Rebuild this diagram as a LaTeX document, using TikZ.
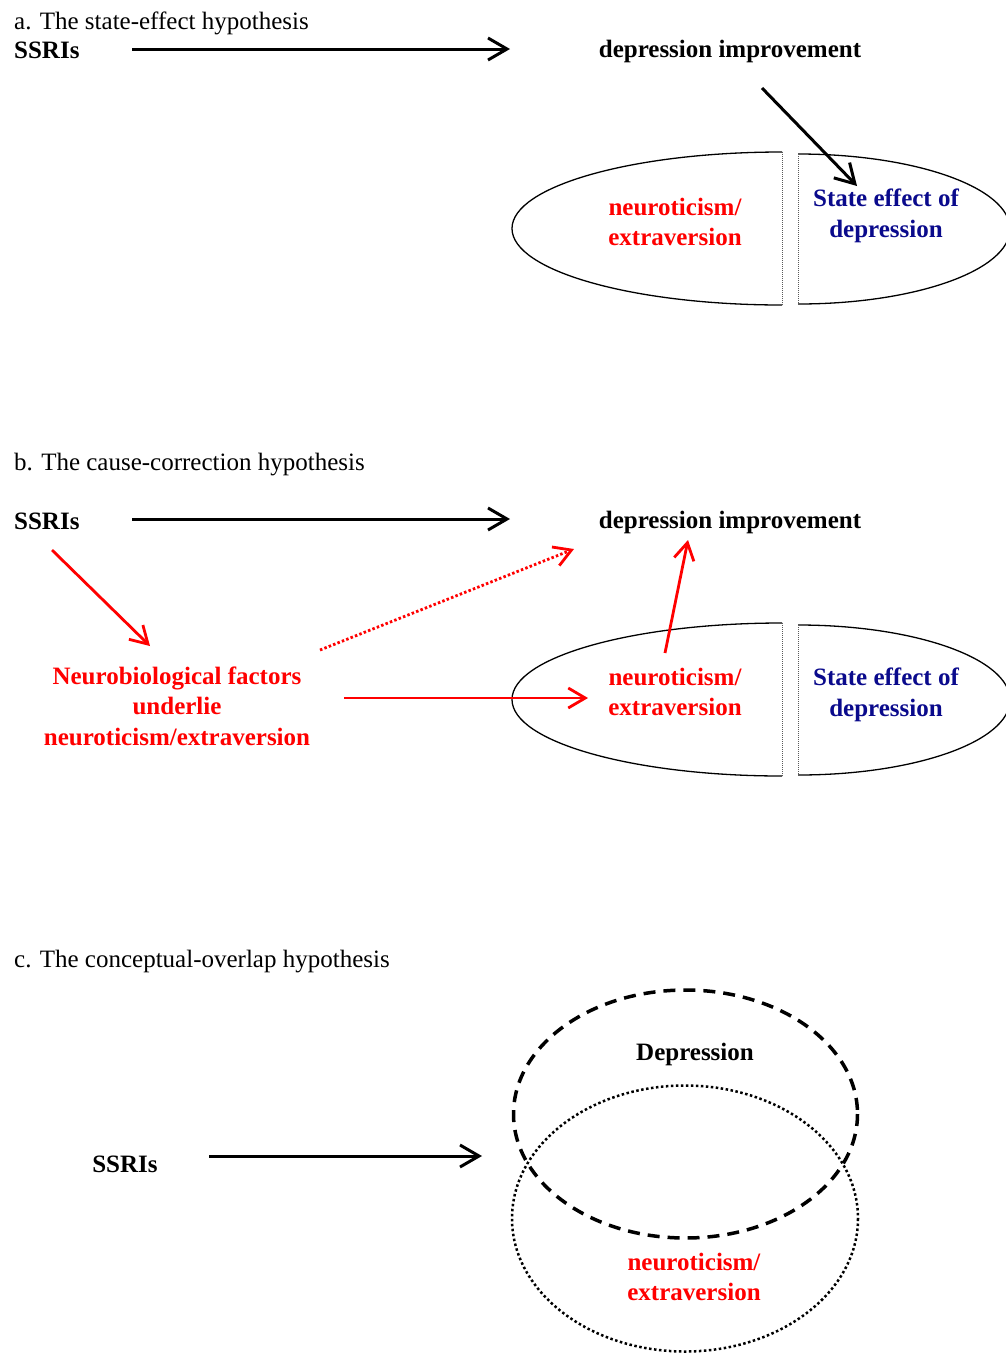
\documentclass[tikz,border=0pt]{standalone}
\usepackage{fontspec}
\setmainfont{Liberation Serif}
\usetikzlibrary{arrows.meta}
\definecolor{navy}{RGB}{10,10,140}
\tikzset{
  ttl/.style={anchor=base west, inner sep=0, font=\fontsize{25}{30}\selectfont},
  lbl/.style={inner sep=0, align=center, font=\fontsize{25}{30.5}\selectfont\bfseries},
  redlbl/.style={lbl, text=red},
  navylbl/.style={lbl, text=navy},
  arr/.style={line width=3pt, -{Straight Barb[length=19pt,width=22pt,line width=3pt]}},
  rarr/.style={red, line width=2.8pt, -{Straight Barb[length=17pt,width=20pt,line width=2.8pt]}},
  rdot/.style={rarr, dash pattern=on 2.5pt off 2.2pt},
  ell/.style={line width=1.3pt},
  sep/.style={line width=0.9pt, gray!70!black, dash pattern=on 1pt off 1pt},
}
\begin{document}
\begin{tikzpicture}[x=1pt,y=-1pt]
\clip (0,0) rectangle (1006,1353);
\fill[white] (0,0) rectangle (1006,1353);

% ---------------- a ----------------
\node[ttl] (ta) at (14,29) {a. The state-effect hypothesis};
\node[lbl, anchor=west] (ssa) at (14,50) {SSRIs};
\node[lbl] (dia) at (730,51) {depression improvement};
\coordinate (a1s) at (132,49);
\coordinate (a1e) at (510,49);
\draw[arr] (a1s) -- (a1e);
\draw[ell] (782,152) arc[start angle=270, end angle=90, x radius=270, y radius=76.5];
\draw[ell] (798,154) arc[start angle=270, end angle=450, x radius=212, y radius=75];
\draw[sep] (782,152) -- (782,305);
\draw[sep] (798,154) -- (798,304);
\node[redlbl] (nea) at (675,222) {neuroticism/\\extraversion};
\node[navylbl] (sea) at (886,216) {State effect of\\depression};
\coordinate (a2s) at (762,88);
\coordinate (a2e) at (857,186);
\draw[arr] (a2s) -- (a2e);

% ---------------- b ----------------
\node[ttl] (tb) at (14,470) {b. The cause-correction hypothesis};
\node[lbl, anchor=west] (ssb) at (14,521) {SSRIs};
\node[lbl] (dib) at (730,522) {depression improvement};
\coordinate (b1s) at (132,519);
\coordinate (b1e) at (510,519);
\draw[arr] (b1s) -- (b1e);
\draw[ell] (782,623) arc[start angle=270, end angle=90, x radius=270, y radius=76.5];
\draw[ell] (798,625) arc[start angle=270, end angle=450, x radius=212, y radius=75];
\draw[sep] (782,623) -- (782,776);
\draw[sep] (798,625) -- (798,775);
\node[redlbl] (neb) at (675,692) {neuroticism/\\extraversion};
\node[navylbl] (seb) at (886,695) {State effect of\\depression};
\node[redlbl] (nbf) at (177,706) {Neurobiological factors\\underlie\\neuroticism/extraversion};
\coordinate (b2s) at (52,550);
\coordinate (b2e) at (150,646);
\draw[rarr] (b2s) -- (b2e);
\coordinate (b3s) at (320,650);
\coordinate (b3e) at (574,549);
\draw[rdot] (b3s) -- (b3e);
\coordinate (b4s) at (344,698);
\coordinate (b4e) at (588,698);
\draw[rarr] (b4s) -- (b4e);
\coordinate (b5s) at (665,653);
\coordinate (b5e) at (688,540);
\draw[rarr] (b5s) -- (b5e);

% ---------------- c ----------------
\node[ttl] (tc) at (14,967) {c. The conceptual-overlap hypothesis};
\node[lbl] (ssc) at (125,1164) {SSRIs};
\coordinate (c1s) at (209,1156);
\coordinate (c1e) at (482,1156);
\draw[arr] (c1s) -- (c1e);
\draw[line width=3.5pt, dash pattern=on 12pt off 8pt] (685.5,1114) ellipse[x radius=172, y radius=124];
\draw[line width=2.5pt, dash pattern=on 2.5pt off 2.5pt] (685,1218.5) ellipse[x radius=173, y radius=133];
\node[lbl] (dep) at (695,1054) {Depression};
\node[redlbl] (nec) at (694,1277) {neuroticism/\\extraversion};
\end{tikzpicture}
\end{document}
